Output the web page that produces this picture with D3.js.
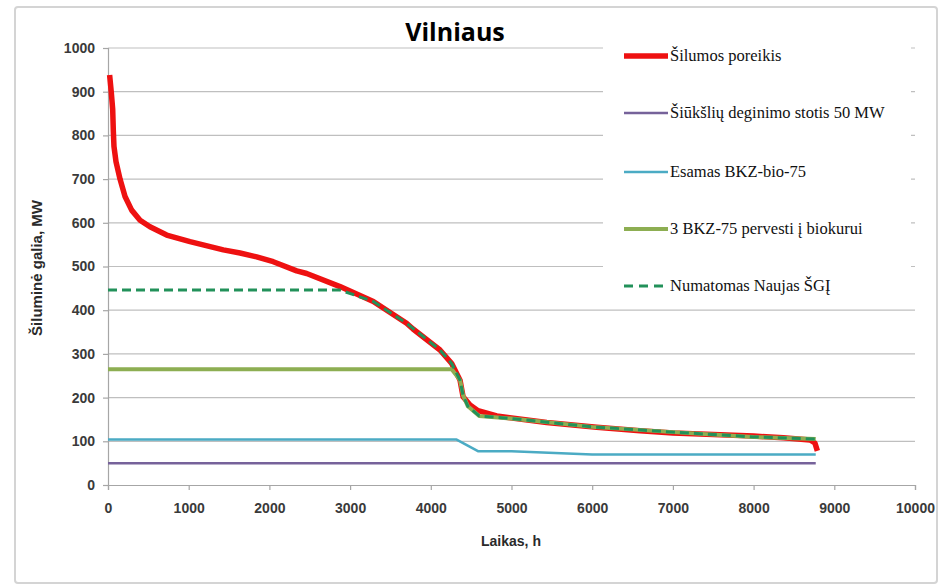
<!DOCTYPE html>
<html><head><meta charset="utf-8">
<script src="https://cdn.jsdelivr.net/npm/d3@7"></script>
<style>body{margin:0;background:#fff}svg{display:block}</style>
</head><body>
<svg id="c" width="942" height="586"></svg>
<script>
const title = "Vilniaus";
const xTitle = "Laikas, h";
const yTitle = "Šiluminė galia, MW";
const xTicks = [0,1000,2000,3000,4000,5000,6000,7000,8000,9000,10000];
const yTicks = [0,100,200,300,400,500,600,700,800,900,1000];

const seriesNames = ["Šilumos poreikis","Šiūkšlių deginimo stotis 50 MW","Esamas BKZ-bio-75","3 BKZ-75 pervesti į biokurui","Numatomas Naujas ŠGĮ"];

const demandHours = [20,40,58,66,74,99,149,211,293,397,520,727,1016,1429,1636,1842,2048,2338,2462,2875,3288,3700,3780,4114,4259,4362,4400,4486,4585,4817,5436,6056,6592,7000,8000,8368,8700,8760,8790];
const demandMW    = [938,900,860,810,775,740,700,660,629,606,591,572,557,538,531,522,511,490,484,454,420,370,357,309,278,240,202,183,170,158,143,132,124,119,112,108,103,96,78];

const wasteHours = [0,8770];
const wasteMW    = [50,50];

const bioHours = [0,4320,4590,5000,6000,8770];
const bioMW    = [104,104,77,77,70,70];

const bkzHours = [0,4259,4362,4400,4460,4600,5000,6000,7000,8000,8770];
const bkzMW    = [265,265,240,205,180,158,152,133,121,110,105];

const newHours = [0,2875,3288,3700,4114,4259,4362,4400,4460,4600,5000,6000,7000,8000,8770];
const newMW    = [446,446,420,370,309,278,240,205,180,158,152,133,121,110,105];

const svg = d3.select("#c");

const x = d3.scaleLinear().domain([0,10000]).range([108,915]);
const y = d3.scaleLinear().domain([0,1000]).range([485,48]);

// outer frame
svg.append("rect").attr("x",15).attr("y",7).attr("width",922).attr("height",576)
  .attr("fill","#fff").attr("stroke","#d4d4d4").attr("stroke-width",2).attr("rx",3);

// gridlines
svg.append("g").selectAll("line").data(yTicks.filter(d=>d>0)).join("line")
  .attr("x1",x(0)).attr("x2",x(10000)).attr("y1",d=>y(d)).attr("y2",d=>y(d))
  .attr("stroke","#bfbfbf").attr("stroke-width",1.2);

const labelFont = "'Liberation Sans',Arial,sans-serif";

// axes
const yAxis = svg.append("g").attr("transform",`translate(${x(0)},0)`)
  .call(d3.axisLeft(y).tickValues(yTicks).tickSize(5).tickPadding(8).tickFormat(d3.format("d")));
const xAxis = svg.append("g").attr("transform",`translate(0,${y(0)})`)
  .call(d3.axisBottom(x).tickValues(xTicks).tickSize(5).tickPadding(13).tickFormat(d3.format("d")));
[yAxis,xAxis].forEach(a=>{
  a.select(".domain").attr("stroke","#a6a6a6").attr("stroke-width",1.2);
  a.selectAll(".tick line").attr("stroke","#a6a6a6").attr("stroke-width",1.2);
  a.selectAll("text").attr("fill","#3a3a3a").style("font-family",labelFont)
    .style("font-size","14px").style("font-weight","bold");
});

// series
const line = d3.line().x(d=>x(d[0])).y(d=>y(d[1]));
const zip = (a,b)=>a.map((v,i)=>[v,b[i]]);

const series = [
  {data:zip(wasteHours,wasteMW), color:"#76629a", w:2.5},
  {data:zip(bioHours,bioMW), color:"#4babc4", w:2.5},
  {data:zip(demandHours,demandMW), color:"#ee1111", w:5.5},
  {data:zip(bkzHours,bkzMW), color:"#8dae52", w:4},
  {data:zip(newHours,newMW), color:"#22915a", w:3, dash:"9,5"}
];
series.forEach(s=>{
  svg.append("path").datum(s.data).attr("d",line).attr("fill","none")
    .attr("stroke",s.color).attr("stroke-width",s.w)
    .attr("stroke-linejoin","round")
    .attr("stroke-dasharray",s.dash||null);
});

// legend (white box covering gridlines)
svg.append("rect").attr("x",603).attr("y",38).attr("width",308).attr("height",268).attr("fill","#fff");
const legend = [
  {name:seriesNames[0], color:"#ee1111", w:5.5, y:56},
  {name:seriesNames[1], color:"#76629a", w:2.5, y:113},
  {name:seriesNames[2], color:"#4babc4", w:2.5, y:172},
  {name:seriesNames[3], color:"#8dae52", w:4, y:229},
  {name:seriesNames[4], color:"#22915a", w:3, y:286, dash:"9,6"}
];
const lg = svg.append("g").selectAll("g").data(legend).join("g");
lg.append("line").attr("x1",624).attr("x2",668).attr("y1",d=>d.y).attr("y2",d=>d.y)
  .attr("stroke",d=>d.color).attr("stroke-width",d=>d.w).attr("stroke-dasharray",d=>d.dash||null);
lg.append("text").attr("x",670).attr("y",d=>d.y+5).text(d=>d.name)
  .style("font-family","'Liberation Serif','Times New Roman',serif").style("font-size","16.5px")
  .attr("fill","#111");

// titles
svg.append("text").attr("x",455).attr("y",41).attr("text-anchor","middle").text(title)
  .style("font-family","'Open Sans',Arial,sans-serif").style("font-size","25px").style("font-weight","bold").attr("fill","#000");
svg.append("text").attr("x",511).attr("y",546).attr("text-anchor","middle").text(xTitle)
  .style("font-family",labelFont).style("font-size","14px").style("font-weight","bold").attr("fill","#2a2a2a");
svg.append("text").attr("transform","translate(42,268) rotate(-90)").attr("text-anchor","middle").text(yTitle)
  .style("font-family",labelFont).style("font-size","15px").style("font-weight","bold").attr("fill","#2a2a2a");
</script>
</body></html>
